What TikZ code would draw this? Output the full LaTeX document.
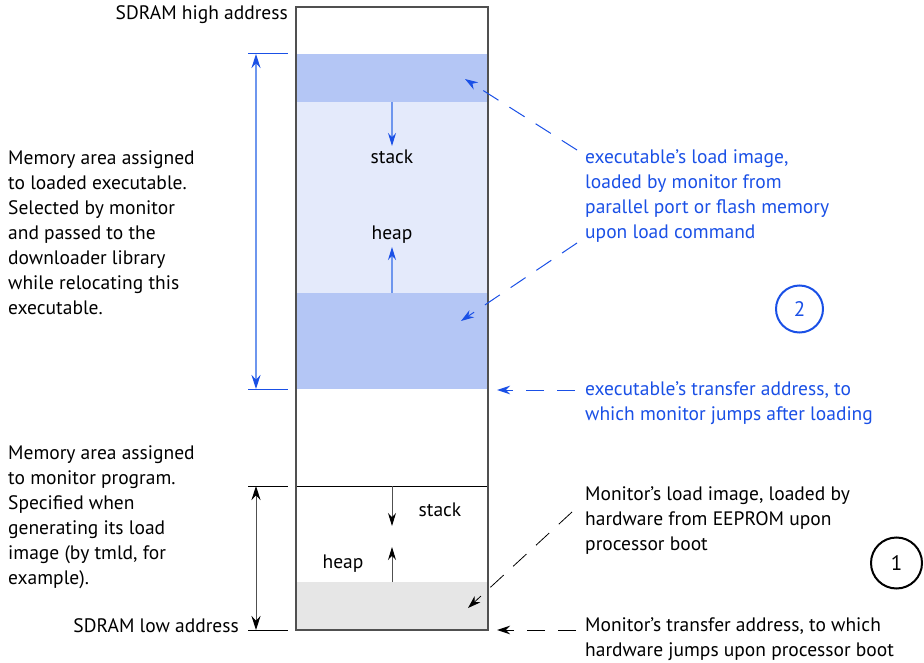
\documentclass[tikz,border=0pt]{standalone}
\usepackage{fontspec}
\setmainfont{PT Sans}
\usetikzlibrary{arrows.meta}
\definecolor{tblue}{RGB}{26,80,230}
\definecolor{lblue}{RGB}{110,150,238}
\definecolor{bandA}{RGB}{180,198,245}
\definecolor{bandB}{RGB}{228,234,251}
\definecolor{grayband}{RGB}{230,230,230}
\definecolor{boxc}{RGB}{80,80,80}
\tikzset{
  x=1pt, y=-1pt,
  txt/.style={font=\fontsize{19.5}{25}\selectfont, inner sep=0pt, align=left, anchor=base west},
  rtxt/.style={font=\fontsize{19.5}{25}\selectfont, inner sep=0pt, anchor=base east},
  ctxt/.style={font=\fontsize{19.5}{25}\selectfont, inner sep=0pt, anchor=base},
  tip/.style={-{Stealth[length=13pt,width=8.5pt]}},
  dashy/.style={dash pattern=on 18pt off 13pt, line width=1pt},
  circ/.style={circle, draw, line width=2pt, inner sep=0pt, font=\fontsize{21}{22}\selectfont}
}
\begin{document}
\begin{tikzpicture}
\useasboundingbox (0,0) rectangle (924,663);
% bands
\fill[bandA] (296,54) rectangle (488,102);
\fill[bandB] (296,102) rectangle (488,293);
\fill[bandA] (296,293) rectangle (488,389);
\fill[grayband] (296,582) rectangle (488,630);
\draw[line width=0.8pt] (296,486) -- (488,486);
\draw[boxc, line width=1.8pt] (296,7) rectangle (488,630);
\node[rtxt] (hi) at (288,20) {SDRAM high address};
\node[rtxt] (lo) at (239,632) {SDRAM low address};
% blue region arrows
\coordinate (s1) at (392,102); \coordinate (s2) at (392,146);
\draw[lblue, line width=1.2pt, -{Stealth[length=13pt,width=8pt,color=tblue]}] (s1) -- (s2);
\node[ctxt] (stk1) at (392,164) {stack};
\node[ctxt] (hp1) at (392,240) {heap};
\coordinate (h1) at (392,293); \coordinate (h2) at (392,247);
\draw[lblue, line width=1.2pt, -{Stealth[length=13pt,width=8pt,color=tblue]}] (h1) -- (h2);
% monitor region arrows
\coordinate (s3) at (392,486); \coordinate (s4) at (392,526);
\draw[boxc, line width=1pt, -{Stealth[length=13pt,width=8pt,color=black]}] (s3) -- (s4);
\node[ctxt] (stk2) at (440,516) {stack};
\node[ctxt] (hp2) at (343,568) {heap};
\coordinate (h3) at (392,582); \coordinate (h4) at (392,547);
\draw[boxc, line width=1pt, -{Stealth[length=13pt,width=8pt,color=black]}] (h3) -- (h4);
% blue dimension
\coordinate (bt1) at (248,54); \coordinate (bt2) at (288,54);
\coordinate (bb1) at (248,389); \coordinate (bb2) at (288,389);
\draw[tblue, line width=1pt] (bt1) -- (bt2);
\draw[tblue, line width=1pt] (bb1) -- (bb2);
\coordinate (bd1) at (256,54); \coordinate (bd2) at (256,389);
\draw[lblue, line width=1.2pt, {Stealth[length=14pt,width=9pt,color=tblue]}-{Stealth[length=14pt,width=9pt,color=tblue]}] (bd1) -- (bd2);
% black dimension
\coordinate (kt1) at (248,486); \coordinate (kt2) at (288,486);
\coordinate (kb1) at (248,630); \coordinate (kb2) at (288,630);
\draw[line width=0.8pt] (kt1) -- (kt2);
\draw[line width=0.8pt] (kb1) -- (kb2);
\coordinate (kd1) at (256,486); \coordinate (kd2) at (256,630);
\draw[boxc, line width=1pt, {Stealth[length=14pt,width=9pt,color=black]}-{Stealth[length=14pt,width=9pt,color=black]}] (kd1) -- (kd2);
% left texts (base anchor = last line baseline)
\node[txt] (exe) at (8,314) {Memory area assigned\\to loaded executable.\\Selected by monitor\\and passed to the\\downloader library\\while relocating this\\executable.};
\node[txt] (mon) at (8,584) {Memory area assigned\\to monitor program.\\Specified when\\generating its load\\image (by tmld, for\\example).};
% right texts
\node[txt, tblue] (li) at (585,239) {executable’s load image,\\loaded by monitor from\\parallel port or flash memory\\upon load command};
\node[txt, tblue] (ta) at (585,420) {executable’s transfer address, to\\which monitor jumps after loading};
\node[txt] (mli) at (585,550) {Monitor’s load image, loaded by\\hardware from EEPROM upon\\processor boot};
\node[txt] (mta) at (585,656) {Monitor’s transfer address, to which\\hardware jumps upon processor boot};
% circles
\node[circ, tblue, minimum size=47pt] (c2) at (799.5,309) {2};
\node[circ, minimum size=51pt] (c1) at (896.5,563) {1};
% dashed arrows
\coordinate (a1s) at (577,150); \coordinate (a1e) at (465,79);
\draw[tblue, dashy, tip] (a1s) -- (a1e);
\coordinate (a2s) at (577,243); \coordinate (a2e) at (461,321);
\draw[tblue, dashy, tip] (a2s) -- (a2e);
\coordinate (a3s) at (575,390); \coordinate (a3e) at (497,390);
\draw[tblue, dashy, tip] (a3s) -- (a3e);
\coordinate (a4s) at (572,512); \coordinate (a4e) at (468,608);
\draw[dashy, line width=0.8pt, tip] (a4s) -- (a4e);
\coordinate (a5s) at (576,630); \coordinate (a5e) at (497,630);
\draw[dashy, tip] (a5s) -- (a5e);
\end{tikzpicture}
\end{document}
